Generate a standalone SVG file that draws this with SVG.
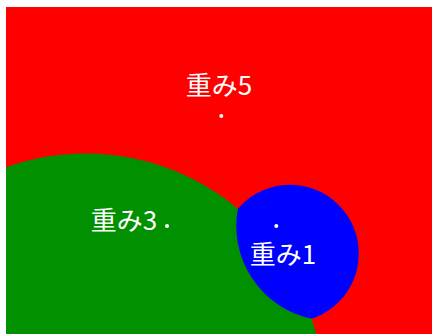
<svg xmlns="http://www.w3.org/2000/svg" width="432" height="334" viewBox="0 0 432 334">
  <style>
    .lbl { font-family: "Noto Sans CJK JP", "Liberation Sans", sans-serif; font-size: 26px; fill: #ffffff; }
    .site { fill: #ffffff; }
  </style>
  <defs>
    <clipPath id="plot"><rect x="6" y="7" width="426" height="327"/></clipPath>
    <clipPath id="blueClip"><circle cx="330.95" cy="226" r="94.66"/></clipPath>
  </defs>
  <rect width="432" height="334" fill="#ffffff"/>
  <g id="region5">
    <rect x="6" y="7" width="426" height="327" fill="#ff0000"/>
  </g>
  <g id="region3" clip-path="url(#plot)">
    <circle cx="85.55" cy="391" r="237.55" fill="#009000"/>
  </g>
  <g id="region1" clip-path="url(#blueClip)">
    <circle cx="290.05" cy="253.5" r="68.75" fill="#0000ff"/>
  </g>
  <g id="site5">
    <circle class="site" cx="221.3" cy="116" r="2"/>
    <text class="lbl" x="219" y="95" text-anchor="middle">重み5</text>
  </g>
  <g id="site3">
    <circle class="site" cx="167" cy="226" r="2"/>
    <text class="lbl" x="124" y="230" text-anchor="middle">重み3</text>
  </g>
  <g id="site1">
    <circle class="site" cx="276.3" cy="226" r="2"/>
    <text class="lbl" x="283" y="264" text-anchor="middle">重み1</text>
  </g>
</svg>
